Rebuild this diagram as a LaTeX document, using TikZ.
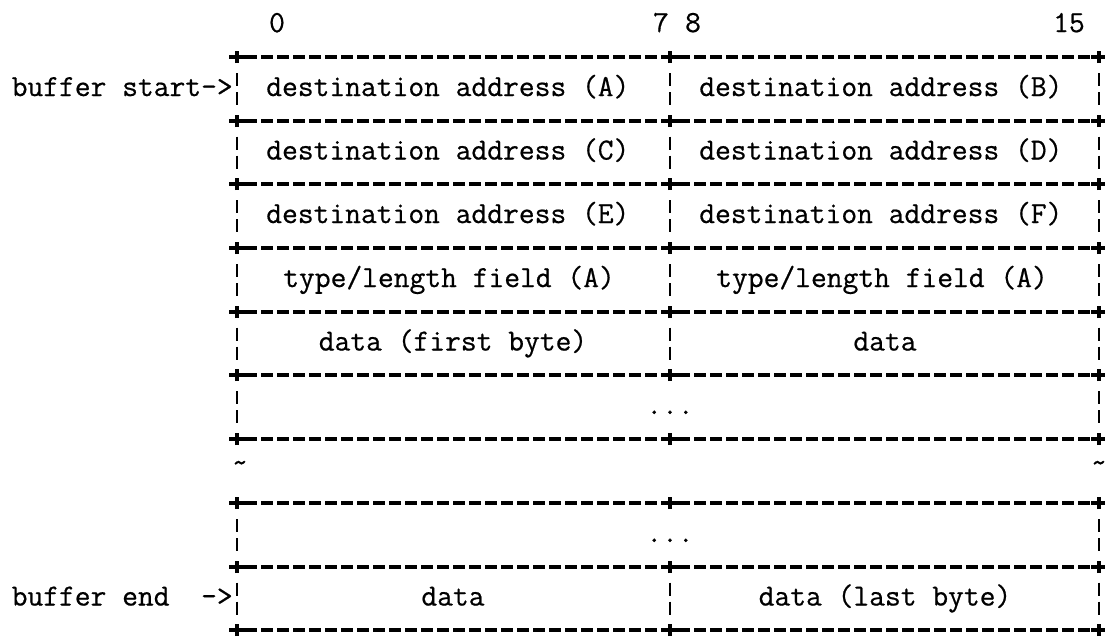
\documentclass[tikz,border=0pt]{standalone}
\usepackage{fontspec}
\newfontfamily\machine{Latin Modern Mono}[FakeBold=0.6]

\begin{document}
\begin{tikzpicture}[x=0.025cm, y=0.025cm]
	\tikzset{texte/.style={font=\machine\fontsize{21.8}{26}\selectfont, inner sep=0pt, text height=14pt, text depth=4pt},
		trait/.style={line width=2.2pt, dash pattern=on 0.3cm off 0.1cm, shorten <=0.2cm, shorten >=0.2cm},
		barre/.style={line width=2pt, dash pattern=on 0.325cm off 0.15cm},
		croix/.pic={\draw[line width=2.2pt] (-8,0) -- (8,0) (0,-6) -- (0,6);},
		coupure/.pic={\draw[barre] (0,16) -- (0,-16);}};

	\useasboundingbox (0,0) rectangle (1105,-641);

	% lignes horizontales
	\foreach \y [count=\i] in {57,121,184,248,312,375,439,503,567,630} {
		\coordinate (g\i) at ( 237, -\y);
		\coordinate (m\i) at ( 670, -\y);
		\coordinate (d\i) at (1099, -\y);
		\draw[trait] (g\i) -- (m\i);
		\draw[trait] (m\i) -- (d\i);
		\pic at (g\i) {croix};
		\pic at (m\i) {croix};
		\pic at (d\i) {croix};
	}

	% barres verticales
	\foreach \c in {89,152.5,216,280,343.5,598.5} {
		\pic at ( 237, -\c) {coupure};
		\pic at ( 670, -\c) {coupure};
		\pic at (1099, -\c) {coupure};
	}
	\foreach \c in {407,535} {
		\pic at ( 237, -\c) {coupure};
		\pic at (1099, -\c) {coupure};
	}

	\node[texte] (c0)  at ( 277,  -25) {0};
	\node[texte] (c7)  at ( 661,  -25) {7};
	\node[texte] (c8)  at ( 693,  -25) {8};
	\node[texte] (c15) at (1069,  -25) {15};

	\node[texte, anchor=east] (debut) at (233,  -89) {buffer start->};
	\node[texte, anchor=east] (fin)   at (233, -598.5) {buffer end\ \ ->};

	\node[texte, anchor=west] (adrA) at (266,  -89) {destination address (A)};
	\node[texte, anchor=west] (adrB) at (699,  -89) {destination address (B)};
	\node[texte, anchor=west] (adrC) at (266, -152.5) {destination address (C)};
	\node[texte, anchor=west] (adrD) at (699, -152.5) {destination address (D)};
	\node[texte, anchor=west] (adrE) at (266, -216) {destination address (E)};
	\node[texte, anchor=west] (adrF) at (699, -216) {destination address (F)};
	\node[texte, anchor=west] (typ1) at (283, -280) {type/length field (A)};
	\node[texte, anchor=west] (typ2) at (716, -280) {type/length field (A)};

	\node[texte] (don1) at (453, -343.5) {data (first byte)};
	\node[texte] (don2) at (885, -343.5) {data};
	\node[texte] (sui1) at (670, -407) {...};
	\node[texte] (vag1) at (240, -465) {\textasciitilde};
	\node[texte] (vag2) at (1099, -465) {\textasciitilde};
	\node[texte] (sui2) at (670, -535) {...};
	\node[texte] (don3) at (453, -598.5) {data};
	\node[texte] (don4) at (885, -598.5) {data (last byte)};

\end{tikzpicture}
\end{document}
